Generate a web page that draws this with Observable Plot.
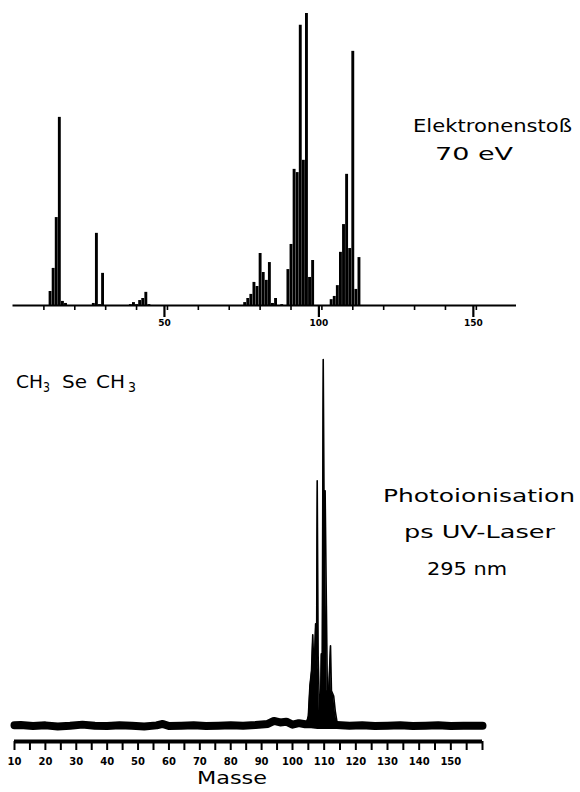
<!DOCTYPE html>
<html><head><meta charset="utf-8">
<script src="https://cdn.jsdelivr.net/npm/d3@7"></script>
<script src="https://cdn.jsdelivr.net/npm/@observablehq/plot@0.6"></script>
<style>
body{margin:0;background:#fff;}
#wrap{position:relative;width:580px;height:792px;overflow:hidden;background:#fff;}
#top,#bot{position:absolute;left:0;}
#top{top:0px}
#bot{top:330px}
#txt{position:absolute;left:0;top:0;pointer-events:none}
</style></head><body>
<div id="wrap"><div id="top"></div><div id="bot"></div><svg id="txt" width="580" height="792"></svg></div>
<script>
// ---- Electron impact (70 eV) spectrum: mass, relative intensity (%)
const eiMass = [12,13,14,15,16,17,26,27,28,29,38,39,40,41,42,43,44,
  75,76,77,78,79,80,81,82,83,84,85,87,
  89,90,91,92,93,94,95,96,97,
  103,104,105,106,107,108,109,110,111,112];
const eiInt = [4.8,12.7,30.1,64.4,1.4,0.7,0.7,24.7,0.3,11.0,0.3,1.0,0.3,1.7,2.4,4.5,0.3,
  1.0,2.4,3.8,7.9,6.5,17.8,11.3,8.6,14.7,0.7,2.4,0.3,
  12.3,20.9,46.6,45.5,95.9,49.7,100,9.6,15.4,
  2.0,3.1,6.8,18.2,27.7,44.9,19.5,87.0,5.5,16.4];
const eiTicks = [10,20,30,40,50,60,70,80,90,100,110,120,130,140,150];
const eiLabels = [50,100,150];

// ---- Photoionisation (ps UV laser, 295 nm): baseline trace and peak trace
const piNoiseMass = [10,12,16,20,24,28,32,36,40,44,48,52,56,58,60,64,68,72,76,80,84,88,92,94,96,98,100,102,104,106,108,110,112,114,118,122,126,130,134,138,142,146,150,154,158,160];
const piNoiseInt  = [0.2,0.3,0,0.2,-0.1,0.1,0.4,0.1,0,0.2,0.1,-0.1,0.2,0.6,0,0.1,0.2,0,0.1,0.2,0.1,0.3,0.6,1.4,1.0,1.2,0.4,0.8,0.5,0.5,0.3,0.3,0.3,0.3,0.1,0.2,0,0.1,0.2,0,0.1,0.2,0,0.1,0.1,0.1];
const piPeakMass = [104.5,105.0,105.5,106.0,106.4,106.8,107.3,107.6,107.8,108.1,108.6,108.9,109.1,109.4,109.7,110.0,110.3,110.7,111.0,111.5,112.0,112.3,113.0,113.5,114.0];
const piPeakInt  = [1.1,2.7,10.9,15.0,24.9,13.7,27.9,16.4,66.9,19.1,1.4,8.2,19.7,16.4,100,54.6,64.2,32.8,9.6,10.9,21.9,9.6,8.2,4.1,1.4];
const piTicks = [10,15,20,25,30,35,40,45,50,55,60,65,70,75,80,85,90,95,100,105,110,115,120,125,130,135,140,145,150,155,160];
const piLabels = [10,20,30,40,50,60,70,80,90,100,110,120,130,140,150];

const labelTop = ["Elektronenstoß","70 eV"];
const labelBottom = ["Photoionisation","ps UV-Laser","295 nm"];
const xTitle = "Masse";

const ei = eiMass.map((m,i)=>({m, v: eiInt[i]}));
const noise = piNoiseMass.map((m,i)=>({m, v: piNoiseInt[i]}));
const peaks = piPeakMass.map((m,i)=>({m, v: piPeakInt[i]}));

const font = "DejaVu Sans";

const topPlot = Plot.plot({
  width: 580, height: 330,
  marginLeft: 12.5, marginRight: 64, marginTop: 12, marginBottom: 25,
  style: {fontFamily: font, background: "transparent", color: "#000"},
  x: {type: "linear", domain: [0, 163], label: null},
  y: {domain: [0, 100.3], axis: null},
  marks: [
    Plot.ruleX(ei, {x: "m", y1: 0, y2: "v", stroke: "#000", strokeWidth: 2.9}),
    Plot.ruleY([0], {stroke: "#000", strokeWidth: 2}),
    Plot.axisX({ticks: eiTicks, tickSize: 5, strokeWidth: 1.6, tickFormat: () => "", label: null}),
    Plot.axisX({ticks: eiLabels, tickSize: 12, strokeWidth: 2.2, tickPadding: 2, fontSize: 9, fontWeight: "bold", label: null, dx: -3})
  ]
});
document.getElementById("top").appendChild(topPlot);

const botPlot = Plot.plot({
  width: 580, height: 462,
  marginLeft: 14, marginRight: 98, marginTop: 15, marginBottom: 51,
  style: {fontFamily: font, background: "transparent", color: "#000"},
  x: {type: "linear", domain: [10, 100, 160], range: [14, 292, 482], label: null},
  y: {domain: [-4.2, 103.8], axis: null},
  marks: [
    Plot.line(noise, {x: "m", y: "v", stroke: "#000", strokeWidth: 8}),
    Plot.areaY(peaks, {x: "m", y: "v", fill: "#000"}),
    Plot.line(peaks, {x: "m", y: "v", stroke: "#000", strokeWidth: 1.6}),
    Plot.ruleY([-4.2], {stroke: "#000", strokeWidth: 4}),
    Plot.axisX({ticks: piTicks, tickSize: 9, strokeWidth: 2, tickFormat: () => "", label: null}),
    Plot.axisX({ticks: piLabels, tickSize: 0, tickPadding: 16, fontSize: 10, fontWeight: "bold", label: null})
  ]
});
document.getElementById("bot").appendChild(botPlot);

// ---- text overlay
const svg = d3.select("#txt");
function put(t, x, y, size, len) {
  const e = svg.append("text").attr("x", x).attr("y", y)
    .attr("font-family", font).attr("font-size", size).attr("fill", "#000").text(t);
  if (len) e.attr("textLength", len).attr("lengthAdjust", "spacingAndGlyphs");
  return e;
}
put(labelTop[0], 413, 132, 18, 159);
put(labelTop[1], 435, 160, 18, 78);
put(labelBottom[0], 383, 502, 18, 192);
put(labelBottom[1], 404, 538, 18, 151);
put(labelBottom[2], 427, 575, 18, 80);
put(xTitle, 197, 784, 18, 70);
// CH3SeCH3 formula
put("CH", 16, 388, 18, 27);
put("3", 43, 392, 14, 7);
put("Se", 62, 388, 18, 25);
put("CH", 96, 388, 18, 29);
put("3", 128, 392, 14, 8);
</script></body></html>
